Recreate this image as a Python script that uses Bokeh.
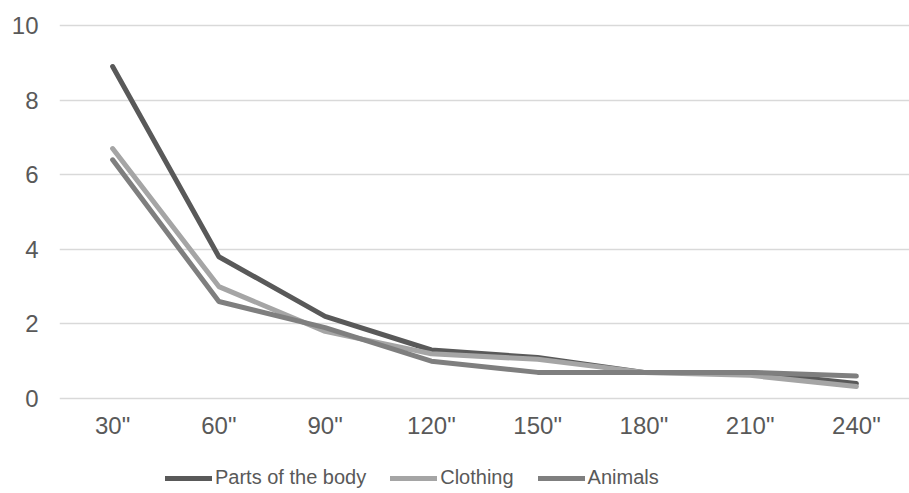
from bokeh.plotting import figure
from bokeh.models import Range1d, Legend, LegendItem, FactorRange
from bokeh.embed import file_html
from bokeh.resources import INLINE

categories = ['30"', '60"', '90"', '120"', '150"', '180"', '210"', '240"']
body = [8.9, 3.8, 2.2, 1.3, 1.1, 0.7, 0.7, 0.4]
clothing = [6.7, 3.0, 1.8, 1.2, 1.05, 0.7, 0.62, 0.32]
animals = [6.4, 2.6, 1.9, 1.0, 0.7, 0.7, 0.7, 0.6]
y_ticks = [0, 2, 4, 6, 8, 10]

FONT = "Liberation Sans"
TXT = "#595959"

p = figure(x_range=FactorRange(*categories), y_range=Range1d(-2.547, 10.107),
           frame_width=850, frame_height=472, output_backend="svg", toolbar_location=None,
           min_border_left=59, min_border_right=0, min_border_top=21, min_border_bottom=0)
p.outline_line_color = None
p.background_fill_color = "white"
p.border_fill_color = "white"

r1 = p.line(categories, body, line_color="#595959", line_width=5, line_join="round", line_cap="round")
r2 = p.line(categories, clothing, line_color="#a5a5a5", line_width=5, line_join="round", line_cap="round")
r3 = p.line(categories, animals, line_color="#7f7f7f", line_width=5, line_join="round", line_cap="round")

p.xgrid.grid_line_color = None
p.ygrid.grid_line_color = "#d9d9d9"
p.ygrid.grid_line_width = 1.5
p.yaxis.ticker = y_ticks
p.xaxis.fixed_location = 0

for ax in (p.xaxis, p.yaxis):
    ax.axis_line_color = None
    ax.major_tick_line_color = None
    ax.minor_tick_line_color = None
    ax.major_tick_out = 0
    ax.major_tick_in = 0
    ax.major_label_text_font = FONT
    ax.major_label_text_font_size = "18pt"
    ax.major_label_text_color = TXT
p.yaxis.major_label_standoff = 21
p.xaxis.major_label_standoff = 14

legend = Legend(items=[LegendItem(label="Parts of the body", renderers=[r1]),
                       LegendItem(label="Clothing", renderers=[r2]),
                       LegendItem(label="Animals", renderers=[r3])],
                orientation="horizontal", location=(106, 4),
                label_text_font=FONT, label_text_font_size="15pt", label_text_color=TXT,
                glyph_width=47, glyph_height=16, label_height=16, label_standoff=3, spacing=24,
                border_line_color=None, background_fill_alpha=0,
                padding=0, margin=0)
p.add_layout(legend, "center")

open("out.html", "w").write(file_html(p, INLINE))
